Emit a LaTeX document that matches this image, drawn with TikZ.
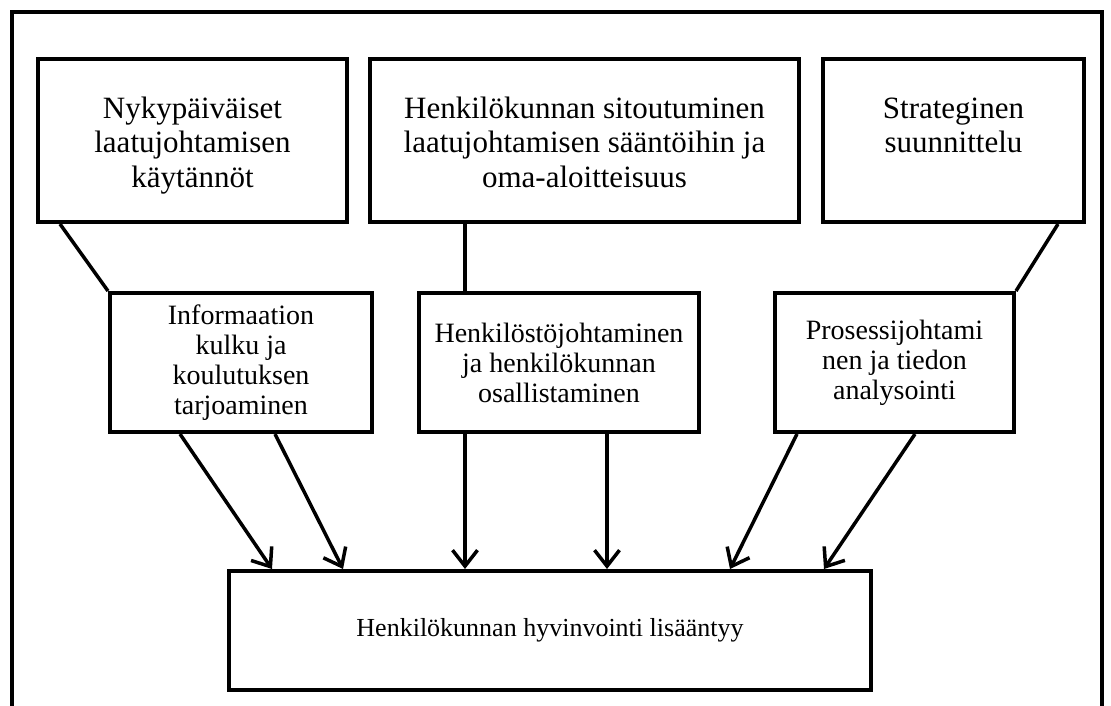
\documentclass[tikz,border=0pt]{standalone}
\usepackage{fontspec}
\setmainfont{Liberation Serif}
\usetikzlibrary{arrows.meta}
\newcommand\tboxtext[3]{\parbox[c][#2][t]{#1}{\centering\fontsize{31}{34.5}\selectfont\vspace*{35pt}\strut#3}}
\newcommand\mboxtext[3]{\parbox[c][#2][c]{#1}{\centering\fontsize{28}{30}\selectfont #3}}
\tikzset{
  box/.style={draw, line width=4pt, inner sep=0pt, anchor=north west, fill=white},
  conn/.style={line width=3.5pt},
  arr/.style={line width=3.5pt, -{Straight Barb[length=16pt,width=25pt]}},
}
\begin{document}
\begin{tikzpicture}[x=1pt,y=-1pt]
\useasboundingbox (0,0) rectangle (1111,706);
\clip (0,0) rectangle (1111,706);
\fill[white] (0,0) rectangle (1111,706);
% outer frame
\draw[line width=4.5pt] (12,12) rectangle (1102,730);
% top row
\node[box] (b1) at (36,57) {\tboxtext{309pt}{163pt}{Nykypäiväiset\\laatujohtamisen\\käytännöt}};
\node[box] (b2) at (368,57) {\tboxtext{429pt}{163pt}{Henkilökunnan sitoutuminen\\laatujohtamisen sääntöihin ja\\oma-aloitteisuus}};
\node[box] (b3) at (821,57) {\tboxtext{261pt}{163pt}{Strateginen\\suunnittelu}};
% middle row
\node[box] (b4) at (108,291) {\mboxtext{262pt}{139pt}{Informaation\\kulku ja\\koulutuksen\\tarjoaminen}};
\node[box] (b5) at (417,291) {\mboxtext{280pt}{139pt}{Henkilöstöjohtaminen\\ja henkilökunnan\\osallistaminen}};
\node[box] (b6) at (773,291) {\mboxtext{239pt}{139pt}{Prosessijohtami\\nen ja tiedon\\analysointi}};
% bottom
\node[box] (b7) at (227,569) {\parbox[c][119pt][c]{642pt}{\centering\fontsize{26}{30}\selectfont Henkilökunnan hyvinvointi lisääntyy}};
% connectors
\draw[conn] ([xshift=24pt]b1.south west) -- (b4.north west);
\draw[conn] ([xshift=97pt]b2.south west) -- ([xshift=48pt]b5.north west);
\draw[conn] ([xshift=237pt]b3.south west) -- (b6.north east);
% arrows
\draw[arr] ([xshift=72pt]b4.south west) -- ([xshift=45pt]b7.north west);
\draw[arr] ([xshift=167pt]b4.south west) -- ([xshift=116pt]b7.north west);
\draw[arr] ([xshift=48pt]b5.south west) -- ([xshift=238pt]b7.north west);
\draw[arr] ([xshift=190pt]b5.south west) -- ([xshift=380pt]b7.north west);
\draw[arr] ([xshift=24pt]b6.south west) -- ([xshift=503pt]b7.north west);
\draw[arr] ([xshift=142pt]b6.south west) -- ([xshift=597pt]b7.north west);
\end{tikzpicture}
\end{document}
